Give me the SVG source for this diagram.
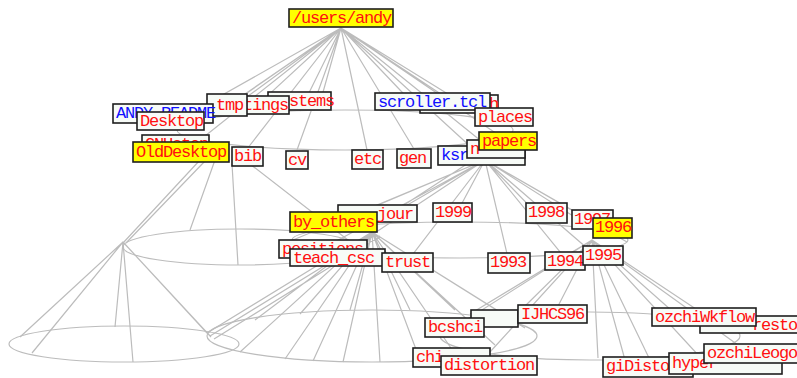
<svg xmlns="http://www.w3.org/2000/svg" width="797" height="378" viewBox="0 0 797 378">
<style>
.ln{stroke:#bcbcbc;stroke-width:1.2;fill:none}
.bx{fill:#f7fbf7;stroke:#1e1e1e;stroke-width:1.6}
.sel{fill:#ffff00}
.t{font-family:"Liberation Mono","DejaVu Sans Mono",monospace;font-size:17px;letter-spacing:-1.2px;fill:#ff1010}
.bl{fill:#1010ff}
</style>
<rect width="797" height="378" fill="#ffffff"/>
<g id="connectors">
  <ellipse class="ln" cx="345" cy="130" rx="168" ry="20"/>
  <path class="ln" d="M341 28L178 120M341 28L205 122M341 28L210 118M341 28L200 140M341 28L225 113M341 28L250 112M341 28L300 111M341 28L318 110M341 28L247 149M341 28L297 150M341 28L367 150M341 28L414 149M341 28L420 111M341 28L468 112M341 28L490 120M341 28L500 136M341 28L486 145M341 28L472 148"/>
  <ellipse class="ln" cx="240" cy="247" rx="117" ry="18"/>
  <path class="ln" d="M200 160L123 243M206 160L126 243M232 164L238 265M250 164L357 247M215 160L190 230"/>
  <ellipse class="ln" cx="124" cy="344" rx="115" ry="18"/>
  <path class="ln" d="M123 242L20 337M123 242L32 353M123 242L115 327M123 242L133 362M123 242L207 333M123 242L211 337"/>
  <ellipse class="ln" cx="460" cy="240" rx="168" ry="18"/>
  <path class="ln" d="M485 160L293 240M485 160L333 224M485 160L378 222M485 160L452 222M485 160L545 222M485 160L592 228M485 160L612 233M485 160L627 242M485 160L595 255M485 160L565 258M485 160L508 258M485 160L410 258M485 160L340 256M485 160L320 250M470 162L378 222"/>
  <ellipse class="ln" cx="372" cy="336" rx="165" ry="26"/>
  <path class="ln" d="M372 232L207 333M376 234L210 336M380 236L214 339M372 232L240 352M372 232L285 359M372 232L313 361M372 232L343 362M372 232L380 362M372 232L420 360M372 232L455 354M372 232L495 345M372 232L525 328M372 232L500 312M372 232L455 310M372 232L410 310M372 232L350 310M372 232L300 314M372 232L255 320"/>
  <ellipse class="ln" cx="590" cy="336" rx="150" ry="24"/>
  <path class="ln" d="M592 240L441 336M592 240L470 314M592 240L520 311M592 240L555 312M592 240L598 358M592 240L625 360M592 240L680 318M592 240L720 325M592 240L738 345M592 240L700 357M592 240L650 360M592 240L490 352"/>
</g>
<g id="n_root"><rect class="bx sel" x="289" y="9" width="104" height="18"/><text class="t" x="292" y="23">/users/andy</text></g>
<g id="n_systems"><rect class="bx" x="268" y="92" width="63" height="18"/><text class="t" x="271" y="106">systems</text></g>
<g id="n_meetings"><rect class="bx" x="213" y="96" width="76" height="18"/><text class="t" x="216" y="110">meetings</text></g>
<g id="n_tmp"><rect class="bx" x="207" y="94" width="40" height="22"/><text class="t" x="216" y="110">tmp</text></g>
<g id="n_andy_readme"><rect class="bx" x="113" y="104" width="100" height="19"/><text class="t bl" x="116" y="118">ANDY_README</text></g>
<g id="n_desktop"><rect class="bx" x="137" y="112" width="67" height="18"/><text class="t" x="140" y="126">Desktop</text></g>
<g id="n_gnustep"><rect class="bx" x="142" y="135" width="67" height="16"/><text class="t" x="145" y="149">GNUstep</text></g>
<g id="n_olddesktop"><rect class="bx sel" x="133" y="142" width="96" height="20"/><text class="t" x="136" y="157">OldDesktop</text></g>
<g id="n_bib"><rect class="bx" x="232" y="147" width="31" height="19"/><text class="t" x="234" y="161">bib</text></g>
<g id="n_cv"><rect class="bx" x="286" y="151" width="22" height="18"/><text class="t" x="288" y="165">cv</text></g>
<g id="n_etc"><rect class="bx" x="352" y="150" width="31" height="19"/><text class="t" x="354" y="164">etc</text></g>
<g id="n_gen"><rect class="bx" x="397" y="149" width="34" height="19"/><text class="t" x="399" y="163">gen</text></g>
<g id="n_h"><rect class="bx" x="420" y="95" width="78" height="18"/><text class="t" x="489" y="109">h</text></g>
<g id="n_scroller"><rect class="bx" x="375" y="93" width="115" height="17"/><text class="t bl" x="378" y="107">scroller.tcl</text></g>
<g id="n_places"><rect class="bx" x="475" y="108" width="58" height="18"/><text class="t" x="478" y="122">places</text></g>
<g id="n_ksr"><rect class="bx" x="438" y="146" width="87" height="19"/><text class="t bl" x="441" y="160">ksr</text></g>
<g id="n_n"><rect class="bx" x="467" y="140" width="58" height="18"/><text class="t" x="470" y="154">n</text></g>
<g id="n_papers"><rect class="bx sel" x="479" y="132" width="58" height="18"/><text class="t" x="482" y="146">papers</text></g>
<g id="n_jour"><rect class="bx" x="338" y="205" width="79" height="17"/><text class="t" x="377" y="219">jour</text></g>
<g id="n_by_others"><rect class="bx sel" x="290" y="212" width="87" height="20"/><text class="t" x="293" y="227">by_others</text></g>
<g id="n_positions"><rect class="bx" x="279" y="240" width="88" height="18"/><text class="t" x="282" y="254">positions</text></g>
<g id="n_teach"><rect class="bx" x="290" y="249" width="95" height="17"/><text class="t" x="293" y="263">teach_csc</text></g>
<g id="n_trust"><rect class="bx" x="382" y="253" width="51" height="19"/><text class="t" x="385" y="267">trust</text></g>
<g id="n_1999"><rect class="bx" x="433" y="203" width="39" height="19"/><text class="t" x="435" y="217">1999</text></g>
<g id="n_1998"><rect class="bx" x="526" y="203" width="41" height="20"/><text class="t" x="528" y="217">1998</text></g>
<g id="n_1997"><rect class="bx" x="572" y="210" width="41" height="19"/><text class="t" x="574" y="224">1997</text></g>
<g id="n_1996"><rect class="bx sel" x="593" y="218" width="39" height="20"/><text class="t" x="595" y="232">1996</text></g>
<g id="n_1993"><rect class="bx" x="488" y="253" width="42" height="20"/><text class="t" x="490" y="267">1993</text></g>
<g id="n_1994"><rect class="bx" x="545" y="252" width="40" height="18"/><text class="t" x="547" y="266">1994</text></g>
<g id="n_1995"><rect class="bx" x="583" y="246" width="40" height="19"/><text class="t" x="585" y="260">1995</text></g>
<g id="n_ch"><rect class="bx" x="471" y="310" width="47" height="17"/></g>
<g id="n_bcshci"><rect class="bx" x="425" y="318" width="59" height="19"/><text class="t" x="428" y="332">bcshci</text></g>
<g id="n_ijhcs96"><rect class="bx" x="518" y="305" width="69" height="18"/><text class="t" x="521" y="319">IJHCS96</text></g>
<g id="n_chi"><rect class="bx" x="413" y="348" width="77" height="19"/><text class="t" x="416" y="362">chi</text></g>
<g id="n_distortion"><rect class="bx" x="441" y="356" width="96" height="19"/><text class="t" x="444" y="370">distortion</text></g>
<g id="n_resto"><rect class="bx" x="700" y="316" width="100" height="17"/><text class="t" x="752" y="330">resto</text></g>
<g id="n_ozchiwkflow"><rect class="bx" x="652" y="308" width="104" height="18"/><text class="t" x="655" y="322">ozchiWkflow</text></g>
<g id="n_gidisto"><rect class="bx" x="603" y="357" width="90" height="20"/><text class="t" x="606" y="371">giDisto</text></g>
<g id="n_hyper"><rect class="bx" x="669" y="353" width="113" height="21"/><text class="t" x="672" y="368">hyper</text></g>
<g id="n_ozchileogo"><rect class="bx" x="704" y="344" width="97" height="19"/><text class="t" x="707" y="358">ozchiLeogo</text></g>
</svg>
